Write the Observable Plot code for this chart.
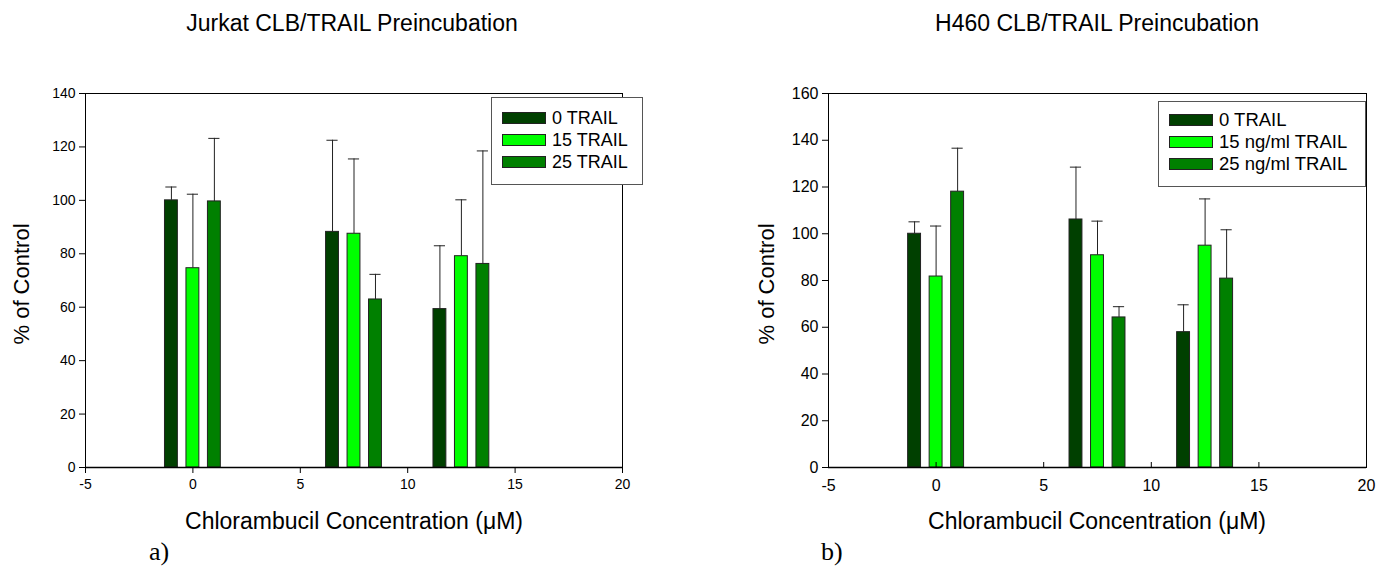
<!DOCTYPE html>
<html>
<head>
<meta charset="utf-8">
<script src="https://cdn.jsdelivr.net/npm/d3@7"></script>
<script src="https://cdn.jsdelivr.net/npm/@observablehq/plot@0.6"></script>
<style>
  body { margin: 0; background: #fff; }
  #page { position: relative; width: 1379px; height: 576px; font-family: "Liberation Sans", Arial, sans-serif; color: #000; }
  .abs { position: absolute; white-space: nowrap; line-height: 1.15; }
  .title { font-size: 23px; transform: translateX(-50%); }
  .xlab { font-size: 23px; transform: translateX(-50%); }
  .ylab { font-size: 22px; transform: translate(-50%, -50%) rotate(-90deg); }
  .panel { font-family: "Liberation Serif", "Times New Roman", serif; font-size: 26px; }
  .legend { border: 1px solid #555; background: #fff; box-sizing: border-box; line-height: 1; }
  .legend .row { display: flex; align-items: center; height: 22px; }
  .legend .sw { width: 42px; height: 10px; border: 1px solid #222; margin-right: 6px; flex: none; }
  svg { overflow: visible; }
</style>
</head>
<body>
<div id="page"></div>
<script>
// ---- data ----
const seriesJurkat = ["0 TRAIL", "15 TRAIL", "25 TRAIL"];
const seriesH460 = ["0 TRAIL", "15 ng/ml TRAIL", "25 ng/ml TRAIL"];
const seriesColors = ["#004000", "#00ff00", "#008000"];
// bar centre positions (x axis, µM units) for each series
const pos0 = [-1, 6.5, 11.5];
const pos15 = [0, 7.5, 12.5];
const pos25 = [1, 8.5, 13.5];
const xTicks = [-5, 0, 5, 10, 15, 20];

// Jurkat: means and error-bar tops
const jurkat0 = [100, 88.2, 59.3];
const jurkat0Err = [105, 122.5, 83];
const jurkat15 = [74.6, 87.5, 79.1];
const jurkat15Err = [102.3, 115.5, 100.2];
const jurkat25 = [99.6, 62.9, 76.2];
const jurkat25Err = [123.2, 72.3, 118.5];
const jurkatYTicks = [0, 20, 40, 60, 80, 100, 120, 140];

// H460
const h4600 = [100, 106.1, 57.9];
const h4600Err = [105.1, 128.5, 69.6];
const h46015 = [81.7, 90.8, 94.9];
const h46015Err = [103.3, 105.4, 114.9];
const h46025 = [118, 64.2, 80.8];
const h46025Err = [136.6, 68.8, 101.7];
const h460YTicks = [0, 20, 40, 60, 80, 100, 120, 140, 160];

function rows(vals, errs) {
  const positions = [pos0, pos15, pos25];
  const out = [];
  vals.forEach((v, s) => v.forEach((y, i) => out.push({x: positions[s][i], v: y, e: errs[s][i], s})));
  return out;
}

const page = document.getElementById("page");
function place(el, left, top) { el.style.position = "absolute"; el.style.left = left + "px"; el.style.top = top + "px"; page.appendChild(el); }
function div(cls, text, left, top) { const d = document.createElement("div"); d.className = "abs " + cls; d.textContent = text; d.style.left = left + "px"; d.style.top = top + "px"; page.appendChild(d); return d; }

const fmt = d => String(d); // plain hyphen-minus like the original

function chart(data, {width, ml, mr, yMax, yTicks, tickFont, xTickSize, xTickPad}) {
  return Plot.plot({
    width, height: 576,
    marginLeft: ml, marginRight: mr, marginTop: 93, marginBottom: 109,
    x: {domain: [-5, 20]},
    y: {domain: [0, yMax]},
    style: {fontFamily: "Liberation Sans, Arial, sans-serif", fontSize: tickFont + "px", color: "#000", background: "transparent"},
    marks: [
      Plot.ruleX(data, {x: "x", y1: "v", y2: "e", stroke: "#222", strokeWidth: 1}),
      Plot.ruleY(data, {x1: d => d.x - 0.26, x2: d => d.x + 0.26, y: "e", stroke: "#222", strokeWidth: 1}),
      Plot.rectY(data, {x1: d => d.x - 0.3, x2: d => d.x + 0.3, y1: 0, y2: "v", fill: d => seriesColors[d.s], stroke: "#222", strokeWidth: 1}),
      Plot.axisY({ticks: yTicks, tickSize: 6, tickPadding: 4, label: null, tickFormat: fmt}),
      Plot.axisX({ticks: xTicks, tickSize: xTickSize, tickPadding: xTickPad, label: null, tickFormat: fmt}),
      Plot.frame({stroke: "#000"}),
      Plot.ruleY([0], {stroke: "#000", strokeWidth: 1.5})
    ]
  });
}

// Left: Jurkat
const left = chart(rows([jurkat0, jurkat15, jurkat25], [jurkat0Err, jurkat15Err, jurkat25Err]),
  {width: 700, ml: 85, mr: 78, yMax: 140, yTicks: jurkatYTicks, tickFont: 14, xTickSize: 6, xTickPad: 6});
place(left, 0, 0);

// Right: H460
const right = chart(rows([h4600, h46015, h46025], [h4600Err, h46015Err, h46025Err]),
  {width: 679, ml: 128, mr: 13, yMax: 160, yTicks: h460YTicks, tickFont: 16, xTickSize: -5, xTickPad: 17});
place(right, 700, 0);

// Titles & labels
div("title", "Jurkat CLB/TRAIL Preincubation", 352, 10);
div("title", "H460 CLB/TRAIL Preincubation", 1097, 10);
div("xlab", "Chlorambucil Concentration (\u03bcM)", 354, 508);
div("xlab", "Chlorambucil Concentration (\u03bcM)", 1097, 508);
div("ylab", "% of Control", 22, 284);
div("ylab", "% of Control", 767, 284);
div("panel", "a)", 149, 537);
div("panel", "b)", 821, 537);

function legend(names, left, top, w, h, font, padTop) {
  const box = document.createElement("div");
  box.className = "legend";
  box.style.width = w + "px"; box.style.height = h + "px";
  box.style.padding = padTop + "px 0 0 10px";
  box.style.fontSize = font + "px";
  names.forEach((n, i) => {
    const r = document.createElement("div"); r.className = "row";
    const sw = document.createElement("div"); sw.className = "sw"; sw.style.background = seriesColors[i];
    const t = document.createElement("span"); t.textContent = n;
    r.appendChild(sw); r.appendChild(t); box.appendChild(r);
  });
  place(box, left, top);
}
legend(seriesJurkat, 491, 97, 152, 88, 18, 9);
legend(seriesH460, 1158, 101, 208, 86, 18.5, 7);
</script>
</body>
</html>
